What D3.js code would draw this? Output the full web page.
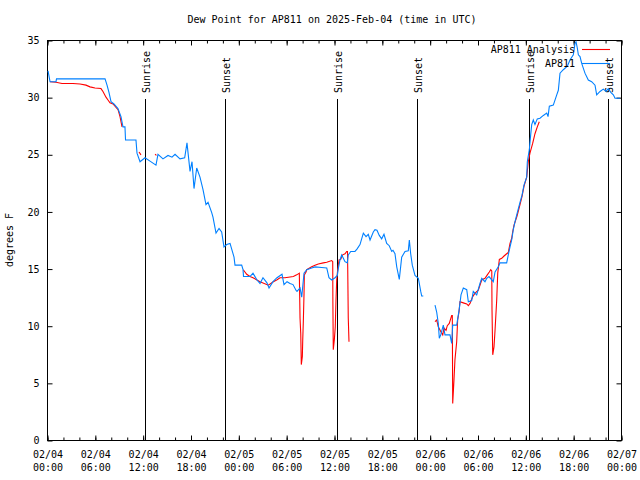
<!DOCTYPE html>
<html>
<head>
<meta charset="utf-8">
<script src="https://cdn.jsdelivr.net/npm/d3@7"></script>
<style>
  body { margin: 0; background: #fff; }
  text { font-family: "DejaVu Sans Mono", "Liberation Mono", monospace; font-size: 10px; fill: #000; }
</style>
</head>
<body>
<svg id="chart" width="640" height="480"></svg>
<script>
// ---------- DATA (hours since 2025-02-04 00:00 UTC) ----------
const titleText = "Dew Point for AP811 on 2025-Feb-04 (time in UTC)";
const yLabel = "degrees F";
const seriesNames = ["AP811 Analysis", "AP811"];
const seriesColors = ["#ff0000", "#0080ff"];
const yTicks = [0, 5, 10, 15, 20, 25, 30, 35];
const xMajorHours = [0, 6, 12, 18, 24, 30, 36, 42, 48, 54, 60, 66, 72];

const sunLabels = ["Sunrise", "Sunset", "Sunrise", "Sunset", "Sunrise", "Sunset"];
const sunHours = [12.3, 22.33, 36.38, 46.41, 60.46, 70.37];

// AP811 observations (null = gap)
const obsHours = [0.13,0.38,1.13,1.19,7.28,7.53,7.78,8.03,8.4,8.9,9.28,9.53,9.78,9.85,11.16,11.29,11.67,12.29,12.92,13.67,13.92,14.55,15.18,15.68,16.06,16.68,17.27,17.56,17.94,18.19,18.44,18.78,19.19,19.57,19.94,20.2,20.66,20.82,21.2,21.58,21.91,22.2,22.54,22.96,23.46,23.58,24.42,24.59,24.65,25.46,25.84,26.34,26.72,27.09,27.59,27.85,28.35,28.85,29.48,29.73,30.11,30.48,30.86,31.23,31.36,31.74,31.95,32.24,32.58,33.2,33.62,34.46,35.09,35.37,35.71,36.13,36.42,36.54,36.75,36.97,37.17,37.38,37.67,37.79,38.1,38.63,38.88,39.26,39.68,40.02,40.3,40.52,40.93,41.14,41.39,41.68,41.98,42.27,42.61,42.93,43.24,43.4,43.65,43.87,44.19,44.49,44.91,45.32,45.45,45.62,45.82,46.16,46.58,46.88,47.0,47.2,
  47.9,
  48.67,48.88,49.08,49.21,49.39,49.71,49.92,50.55,50.76,50.89,51.39,51.72,51.93,52.22,52.65,52.85,53.27,53.47,53.9,54.31,54.53,54.94,55.16,55.44,55.98,56.2,56.61,56.82,57.66,57.86,58.08,58.29,58.49,58.71,58.96,59.33,59.58,59.83,60.17,60.25,60.5,60.67,60.8,61.0,61.21,61.5,61.84,62.26,62.68,62.85,63.01,63.51,63.94,64.14,64.35,64.76,65.27,65.6,66.02,66.23,66.36,66.52,66.65,66.86,67.07,67.48,67.9,68.32,68.74,68.95,69.37,69.78,70.12,70.41,70.75,71.04,71.25,71.88];
const obsDew = [32.3,31.35,31.35,31.6,31.6,31.05,30.4,29.6,29.4,29.0,28.3,27.4,27.4,26.25,26.25,25.1,24.35,24.7,24.4,24.05,25.0,24.6,24.9,24.75,25.0,24.6,24.7,26.0,23.5,24.35,22.0,23.8,23.0,21.9,20.6,20.8,19.9,19.5,18.1,18.5,18.2,16.9,17.1,17.2,16.0,15.3,15.3,14.9,14.3,14.3,14.6,14.0,13.7,14.2,13.75,13.3,13.85,14.2,14.5,13.6,13.85,13.7,13.6,13.1,13.0,13.3,12.5,14.6,14.9,15.05,15.15,15.1,15.05,14.2,14.0,14.2,14.4,15.0,15.75,16.2,15.9,15.6,15.5,16.2,16.5,16.5,16.7,17.1,18.1,17.8,18.0,17.5,18.2,18.4,18.35,17.9,17.6,18.0,17.2,17.0,16.5,16.6,16.3,15.15,14.05,16.0,16.5,16.55,17.5,16.3,15.3,14.4,14.15,13.0,12.6,12.6,
  null,
  11.8,11.2,10.2,8.9,9.2,10.05,9.2,9.2,8.45,10.05,10.05,11.5,12.7,13.3,13.15,12.1,12.2,13.0,12.7,13.7,14.15,13.85,14.15,14.3,13.85,14.7,15.15,15.5,15.5,16.2,16.9,17.5,18.4,19.1,19.8,20.8,21.4,22.3,23.0,24.35,25.4,26.7,27.6,28.0,27.6,28.1,28.15,28.4,28.6,28.3,29.2,29.3,30.2,30.6,32.1,32.4,32.7,33.25,33.7,34.7,34.85,34.3,33.7,33.55,32.95,32.1,31.5,31.35,31.05,30.2,30.5,30.7,30.5,30.75,30.4,30.2,29.9,29.9];

// AP811 Analysis (null = gap)
const anaHours = [0.38,1.13,1.88,3.26,4.14,4.89,5.39,6.02,6.77,7.02,7.4,7.65,7.9,8.28,8.91,9.16,9.41,
  10.5,
  11.54,11.79,
  12.6,
  13.55,13.73,
  19.0,
  24.62,25.05,25.46,25.84,26.34,26.72,27.76,28.39,28.81,29.23,29.85,30.9,31.32,31.65,31.74,31.83,31.9,32.03,32.08,32.15,32.24,32.28,32.49,32.58,33.2,33.62,34.03,34.66,35.09,35.71,35.84,35.86,35.91,36.04,36.16,36.25,36.34,36.46,36.63,36.84,37.09,37.38,37.59,37.69,37.72,37.79,37.88,
  43.0,
  48.67,48.88,49.08,49.39,49.64,49.8,50.05,50.21,50.46,50.76,50.84,50.89,51.05,51.17,51.39,51.51,51.68,51.8,52.22,52.65,52.85,53.06,53.4,53.69,54.1,54.53,54.94,55.23,55.48,55.66,55.79,55.82,55.91,56.07,56.2,56.41,56.54,56.74,57.04,57.33,57.66,57.86,58.08,58.29,58.41,58.58,58.96,59.33,59.58,59.83,60.17,60.37,60.58,60.92,61.21,61.5,61.75];
const anaDew = [31.35,31.3,31.2,31.2,31.15,31.05,30.9,30.8,30.75,30.5,30.0,29.75,29.5,29.4,28.9,28.3,27.4,
  null,
  25.2,24.95,
  null,
  25.0,24.9,
  null,
  14.9,14.5,14.3,14.2,14.0,13.85,13.55,13.85,14.0,14.2,14.2,14.3,14.45,14.6,10.65,9.3,6.6,7.3,8.8,10.3,12.8,14.45,14.7,14.9,15.15,15.3,15.4,15.5,15.55,15.7,15.6,12.0,7.9,8.75,9.9,12.25,14.0,14.9,15.75,15.8,16.2,16.3,16.5,16.5,15.15,10.65,8.6,
  null,
  10.35,10.5,9.9,9.5,9.2,9.8,9.6,10.0,10.2,10.9,10.9,3.2,5.25,7.0,8.6,10.5,11.2,12.1,12.0,11.9,11.75,11.95,12.55,12.85,13.1,14.0,14.15,14.45,14.7,14.9,14.8,11.4,7.45,8.15,9.6,12.25,14.6,15.8,15.9,16.1,16.3,16.4,17.2,17.65,18.2,18.8,19.6,20.6,21.3,22.2,23.0,24.35,25.1,25.95,26.8,27.4,27.85];

// ---------- CHART ----------
const startMs = Date.UTC(2025, 1, 4, 0, 0);
const toDate = h => new Date(startMs + h * 3600e3);

const M = { left: 47, right: 621, top: 40, bottom: 440 };
const svg = d3.select("#chart");

const x = d3.scaleUtc().domain([toDate(0), toDate(72)]).range([M.left, M.right]);
const y = d3.scaleLinear().domain([0, 35]).range([M.bottom, M.top]);

const majorDates = xMajorHours.map(toDate);
const minorDates = d3.range(0, 73, 2).map(toDate);

// frame
svg.append("rect")
  .attr("x", M.left + 0.5).attr("y", M.top + 0.5)
  .attr("width", M.right - M.left).attr("height", M.bottom - M.top)
  .attr("fill", "none").attr("stroke", "#000").attr("stroke-width", 1);

// bottom minor + major ticks (inward)
svg.append("g").attr("transform", `translate(0.5,${M.bottom + 0.5})`)
  .call(d3.axisBottom(x).tickValues(minorDates).tickSizeInner(-3).tickSizeOuter(0).tickFormat(""))
  .call(g => g.select(".domain").remove());
const fmtDay = d3.utcFormat("%m/%d"), fmtTime = d3.utcFormat("%H:%M");
const xAxisG = svg.append("g").attr("transform", `translate(0.5,${M.bottom + 0.5})`)
  .call(d3.axisBottom(x).tickValues(majorDates).tickSizeInner(-5).tickSizeOuter(0).tickPadding(8).tickFormat(""));
xAxisG.select(".domain").remove();
xAxisG.selectAll(".tick text").each(function(d) {
  const t = d3.select(this);
  t.attr("y", 10).attr("dy", null);
  t.append("tspan").attr("x", 0).attr("dy", "0.71em").text(fmtDay(d));
  t.append("tspan").attr("x", 0).attr("dy", "13").text(fmtTime(d));
});

// top mirrored ticks
svg.append("g").attr("transform", `translate(0.5,${M.top + 0.5})`)
  .call(d3.axisTop(x).tickValues(minorDates).tickSizeInner(-3).tickSizeOuter(0).tickFormat(""))
  .call(g => g.select(".domain").remove());
svg.append("g").attr("transform", `translate(0.5,${M.top + 0.5})`)
  .call(d3.axisTop(x).tickValues(majorDates).tickSizeInner(-5).tickSizeOuter(0).tickFormat(""))
  .call(g => g.select(".domain").remove());

// left axis
const yAxisG = svg.append("g").attr("transform", `translate(${M.left + 0.5},0.5)`)
  .call(d3.axisLeft(y).tickValues(yTicks).tickSizeInner(-5).tickSizeOuter(0).tickPadding(8).tickFormat(d3.format("d")));
yAxisG.select(".domain").remove();
// right axis ticks
svg.append("g").attr("transform", `translate(${M.right + 0.5},0.5)`)
  .call(d3.axisRight(y).tickValues(yTicks).tickSizeInner(-5).tickSizeOuter(0).tickFormat(""))
  .call(g => g.select(".domain").remove());

svg.selectAll(".tick text").attr("font-family", null).attr("font-size", null);
svg.selectAll(".tick line").attr("stroke", "#000");

// title and y label
svg.append("text").attr("x", 332).attr("y", 23).attr("text-anchor", "middle").text(titleText);
svg.append("text").attr("transform", "translate(13,240) rotate(-90)").attr("text-anchor", "middle").text(yLabel);

// sunrise / sunset lines
const sunG = svg.append("g");
sunHours.forEach((h, i) => {
  const sx = Math.round(x(toDate(h))) + 0.5;
  sunG.append("line").attr("x1", sx).attr("x2", sx)
    .attr("y1", M.top + 59).attr("y2", M.bottom)
    .attr("stroke", "#000").attr("stroke-width", 1);
  sunG.append("text").attr("transform", `translate(${sx + 4},${M.top + 53}) rotate(-90)`)
    .attr("text-anchor", "start").text(sunLabels[i]);
});

// data lines
const lineGen = d3.line()
  .defined(d => d[1] !== null)
  .x(d => x(toDate(d[0])))
  .y(d => y(d[1]));

const anaData = anaHours.map((h, i) => [h, anaDew[i]]);
const obsData = obsHours.map((h, i) => [h, obsDew[i]]);

svg.append("path").datum(anaData).attr("d", lineGen)
  .attr("fill", "none").attr("stroke", seriesColors[0]).attr("stroke-width", 1.1);
svg.append("path").datum(obsData).attr("d", lineGen)
  .attr("fill", "none").attr("stroke", seriesColors[1]).attr("stroke-width", 1.1);

// legend
seriesNames.forEach((name, i) => {
  const ly = 49 + i * 14;
  svg.append("text").attr("x", 575).attr("y", ly).attr("dy", "0.35em")
    .attr("text-anchor", "end").text(name);
  svg.append("line").attr("x1", 582).attr("x2", 610).attr("y1", ly + 0.5).attr("y2", ly + 0.5)
    .attr("stroke", seriesColors[i]).attr("stroke-width", 1.1);
});
</script>
</body>
</html>
